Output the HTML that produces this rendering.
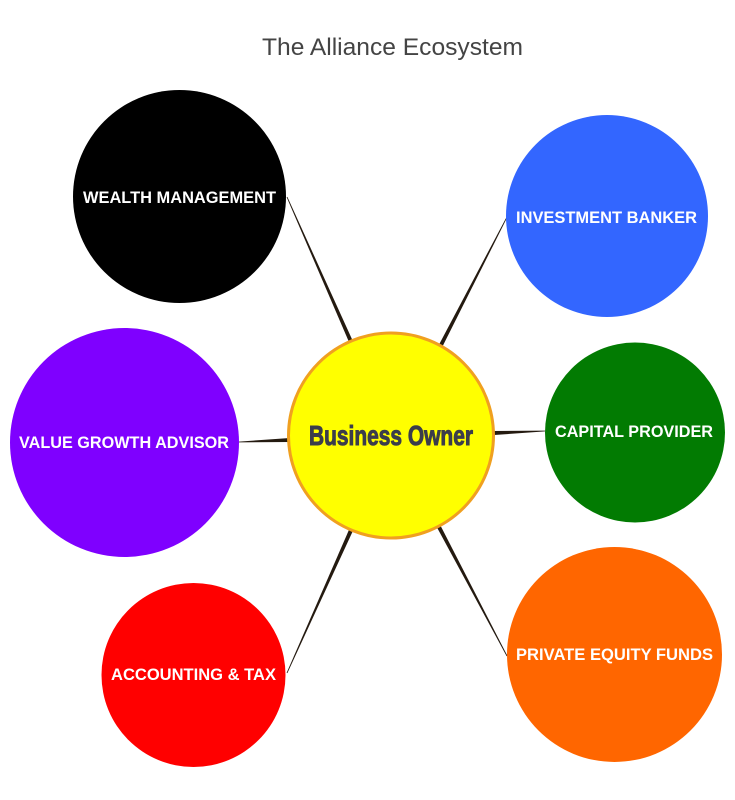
<!DOCTYPE html>
<html>
<head>
<meta charset="utf-8">
<style>
  html, body { margin:0; padding:0; background:#ffffff; }
  body { width:735px; height:800px; overflow:hidden; }
  svg { display:block; }
  .lbl { font-family:"Liberation Sans", Arial, sans-serif; font-weight:bold; font-size:17px; fill:#ffffff; }
</style>
</head>
<body>
<svg width="735" height="800" viewBox="0 0 735 800" xmlns="http://www.w3.org/2000/svg">
  <rect x="0" y="0" width="735" height="800" fill="#ffffff"/>

  <!-- Title -->
  <text x="262" y="55" font-family="'Liberation Sans', Arial, sans-serif" font-size="24" fill="#444444" textLength="261" lengthAdjust="spacingAndGlyphs">The Alliance Ecosystem</text>

  <!-- Connectors (tapered) -->
  <g fill="#241a10">
    <polygon points="286.63,197.16 350.17,344.81 353.83,343.19 287.37,196.84"/>
    <polygon points="506.64,216.82 438.22,346.08 441.78,347.92 507.36,217.18"/>
    <polygon points="239.02,442.4 290.08,442 289.92,438 238.98,441.6"/>
    <polygon points="544.98,430.6 493.92,431 494.08,435 545.02,431.4"/>
    <polygon points="287.37,673.16 353.83,528.82 350.17,527.18 286.63,672.84"/>
    <polygon points="507.35,655.81 440.77,526.07 437.23,527.93 506.65,656.19"/>
  </g>

  <!-- Outer circles -->
  <circle cx="179.5" cy="196.5" r="106.5" fill="#000000"/>
  <circle cx="607" cy="216" r="101" fill="#3366ff"/>
  <circle cx="124.5" cy="442.5" r="114.5" fill="#7f00ff"/>
  <circle cx="635" cy="432.5" r="90" fill="#027b02"/>
  <circle cx="193.5" cy="675" r="92" fill="#ff0000"/>
  <circle cx="614.5" cy="654.5" r="107.5" fill="#ff6600"/>

  <!-- Center circle -->
  <circle cx="391" cy="435.5" r="102.5" fill="#ffff00" stroke="#f0a020" stroke-width="3"/>

  <!-- Labels -->
  <text class="lbl" x="83" y="203" textLength="193" lengthAdjust="spacingAndGlyphs">WEALTH MANAGEMENT</text>
  <text class="lbl" x="516" y="223" textLength="181" lengthAdjust="spacingAndGlyphs">INVESTMENT BANKER</text>
  <text class="lbl" x="19" y="448" textLength="210" lengthAdjust="spacingAndGlyphs">VALUE GROWTH ADVISOR</text>
  <text class="lbl" x="555" y="437" textLength="158" lengthAdjust="spacingAndGlyphs">CAPITAL PROVIDER</text>
  <text class="lbl" x="111" y="680" textLength="165" lengthAdjust="spacingAndGlyphs">ACCOUNTING &amp; TAX</text>
  <text class="lbl" x="516" y="660" textLength="197" lengthAdjust="spacingAndGlyphs">PRIVATE EQUITY FUNDS</text>

  <text x="309" y="445" font-family="'Liberation Sans Narrow', 'Liberation Sans', Arial, sans-serif" font-weight="bold" font-size="28" fill="#3b3d4b" stroke="#3b3d4b" stroke-width="1" textLength="164" lengthAdjust="spacingAndGlyphs">Business Owner</text>
</svg>
</body>
</html>
